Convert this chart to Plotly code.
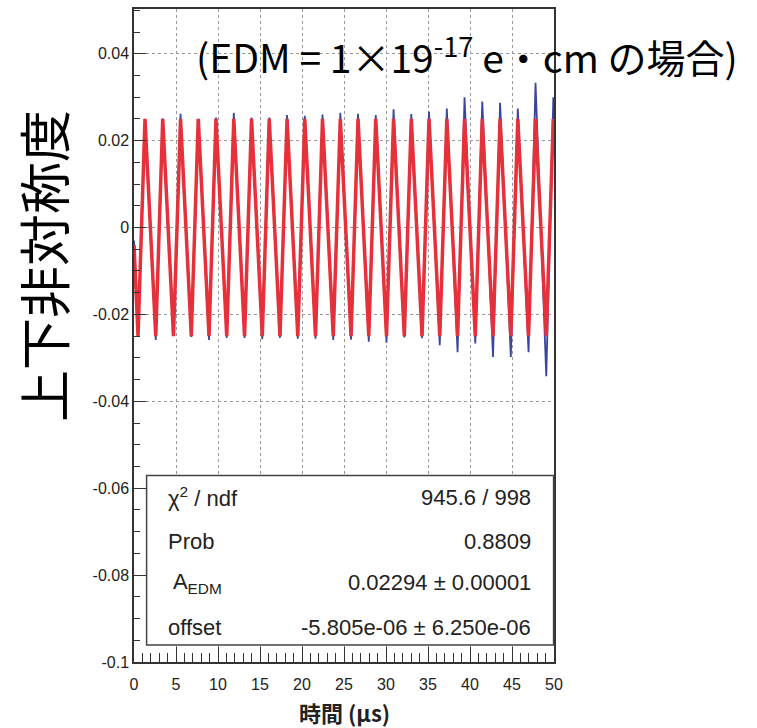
import plotly.graph_objects as go

# ---- data ----
# times (µs) of the fitted curve's troughs and peaks
trough_t = [0.48, 2.59, 4.70, 6.82, 8.93, 11.04, 13.16, 15.27, 17.38, 19.50, 21.61, 23.72,
            25.84, 27.95, 30.06, 32.18, 34.29, 36.40, 38.52, 40.63, 42.74, 44.86, 46.97, 49.08]
peak_t = [1.31, 3.42, 5.54, 7.65, 9.76, 11.88, 13.99, 16.10, 18.22, 20.33, 22.44, 24.56,
          26.67, 28.78, 30.90, 33.01, 35.12, 37.24, 39.35, 41.46, 43.58, 45.69, 47.80, 49.92]

# measured data (blue) at troughs / peaks
data_trough = [-0.0249, -0.0259, -0.0249, -0.0252, -0.0259, -0.0254, -0.0254, -0.0257,
               -0.0254, -0.0256, -0.0256, -0.0259, -0.0258, -0.0263, -0.0265, -0.0253,
               -0.0255, -0.0271, -0.0287, -0.0267, -0.0298, -0.0298, -0.0287, -0.0342]
data_peak = [0.0250, 0.0251, 0.0262, 0.0250, 0.0253, 0.0264, 0.0253, 0.0253,
             0.0259, 0.0257, 0.0260, 0.0264, 0.0262, 0.0259, 0.0272, 0.0261,
             0.0267, 0.0274, 0.0300, 0.0290, 0.0287, 0.0274, 0.0333, 0.0300]
data_start = (0.0, -0.003)
data_end = (50.0, 0.017)

# fit curve (red) extremes
fit_trough = [-0.0250] * 24
fit_peak = [0.0250] * 24
fit_start = (0.0, -0.004)
fit_end = (50.0, 0.0235)

y_tickvals = [-0.1, -0.08, -0.06, -0.04, -0.02, 0, 0.02, 0.04]
y_ticktext = ["-0.1", "-0.08", "-0.06", "-0.04", "-0.02", "0", "0.02", "0.04"]
x_tickvals = [0, 5, 10, 15, 20, 25, 30, 35, 40, 45, 50]
x_ticktext = ["0", "5", "10", "15", "20", "25", "30", "35", "40", "45", "50"]

stats_names = ["χ<sup>2</sup> / ndf", "Prob", " A<sub>EDM</sub>", "offset"]
stats_values = ["945.6 / 998", "0.8809", "0.02294 ± 0.00001", "-5.805e-06 ± 6.250e-06"]


def build(start, troughs, peaks, end):
    xs, ys = [start[0]], [start[1]]
    for tt, tv, pt, pv in zip(trough_t, troughs, peak_t, peaks):
        xs += [tt, pt]
        ys += [tv, pv]
    xs.append(end[0])
    ys.append(end[1])
    return xs, ys


dx, dy = build(data_start, data_trough, data_peak, data_end)
fx, fy = build(fit_start, fit_trough, fit_peak, fit_end)

fig = go.Figure()
fig.add_trace(go.Scatter(x=dx, y=dy, mode="lines",
                         line=dict(color="#3a45a0", width=1.8),
                         showlegend=False, hoverinfo="skip"))
fig.add_trace(go.Scatter(x=fx, y=fy, mode="lines",
                         line=dict(color="#e6303a", width=3.5),
                         showlegend=False, hoverinfo="skip"))

axis_font = dict(family="Liberation Sans, Arial, sans-serif", size=16, color="#222")
common = dict(showline=True, linecolor="#333", linewidth=1.5, mirror=True,
              ticks="inside", tickcolor="#333", tickwidth=1,
              showgrid=True, gridcolor="#999", griddash="dot", gridwidth=1,
              zeroline=False, tickfont=axis_font, tickmode="array")

fig.update_xaxes(range=[0, 50], tickvals=x_tickvals, ticktext=x_ticktext, ticklen=15,
                 ticklabelstandoff=7,
                 minor=dict(tickmode="linear", tick0=0, dtick=1, ticks="inside", ticklen=9,
                            tickcolor="#333", showgrid=False),
                 **common)
fig.update_yaxes(range=[-0.1, 0.0503], tickvals=y_tickvals, ticktext=y_ticktext, ticklen=12,
                 minor=dict(tickmode="linear", tick0=0, dtick=0.005, ticks="inside", ticklen=6,
                            tickcolor="#333", showgrid=False),
                 **common)

# stats box
fig.add_shape(type="rect", xref="paper", yref="paper", x0=0.030, x1=0.999, y0=0.026, y1=0.2857,
              line=dict(color="#444", width=1.5), fillcolor="white", layer="above")
row_y = [0.252, 0.185, 0.121, 0.0535]
stat_font = dict(family="Liberation Sans, Arial, sans-serif", size=22, color="#222")
for name, val, yy in zip(stats_names, stats_values, row_y):
    fig.add_annotation(xref="paper", yref="paper", x=0.076, y=yy, text=name, showarrow=False,
                       xanchor="left", yanchor="middle", font=stat_font)
    fig.add_annotation(xref="paper", yref="paper", x=0.95, y=yy, text=val, showarrow=False,
                       xanchor="right", yanchor="middle", font=stat_font)

# titles
fig.add_annotation(xref="paper", yref="paper", x=0.793, y=0.93,
                   text="(EDM = 1×19<sup>-17</sup> e・cm の場合)", showarrow=False,
                   xanchor="center", yanchor="middle",
                   font=dict(family="Noto Sans CJK JP, Open Sans, sans-serif", size=39, color="black"))
fig.add_annotation(xref="paper", yref="paper", x=-0.218, y=0.607, text="上下非対称度",
                   textangle=-90, showarrow=False, xanchor="center", yanchor="middle",
                   font=dict(family="Noto Sans CJK JP, sans-serif", size=52, color="black"))
fig.add_annotation(xref="paper", yref="paper", x=0.502, y=-0.077, text="<b>時間 (µs)</b>",
                   showarrow=False, xanchor="center", yanchor="middle",
                   font=dict(family="Noto Sans CJK JP, sans-serif", size=22, color="#222"))

fig.update_layout(width=757, height=728, margin=dict(l=134, r=203, t=7, b=66),
                  plot_bgcolor="white", paper_bgcolor="white", showlegend=False)

fig.write_html("out.html")
